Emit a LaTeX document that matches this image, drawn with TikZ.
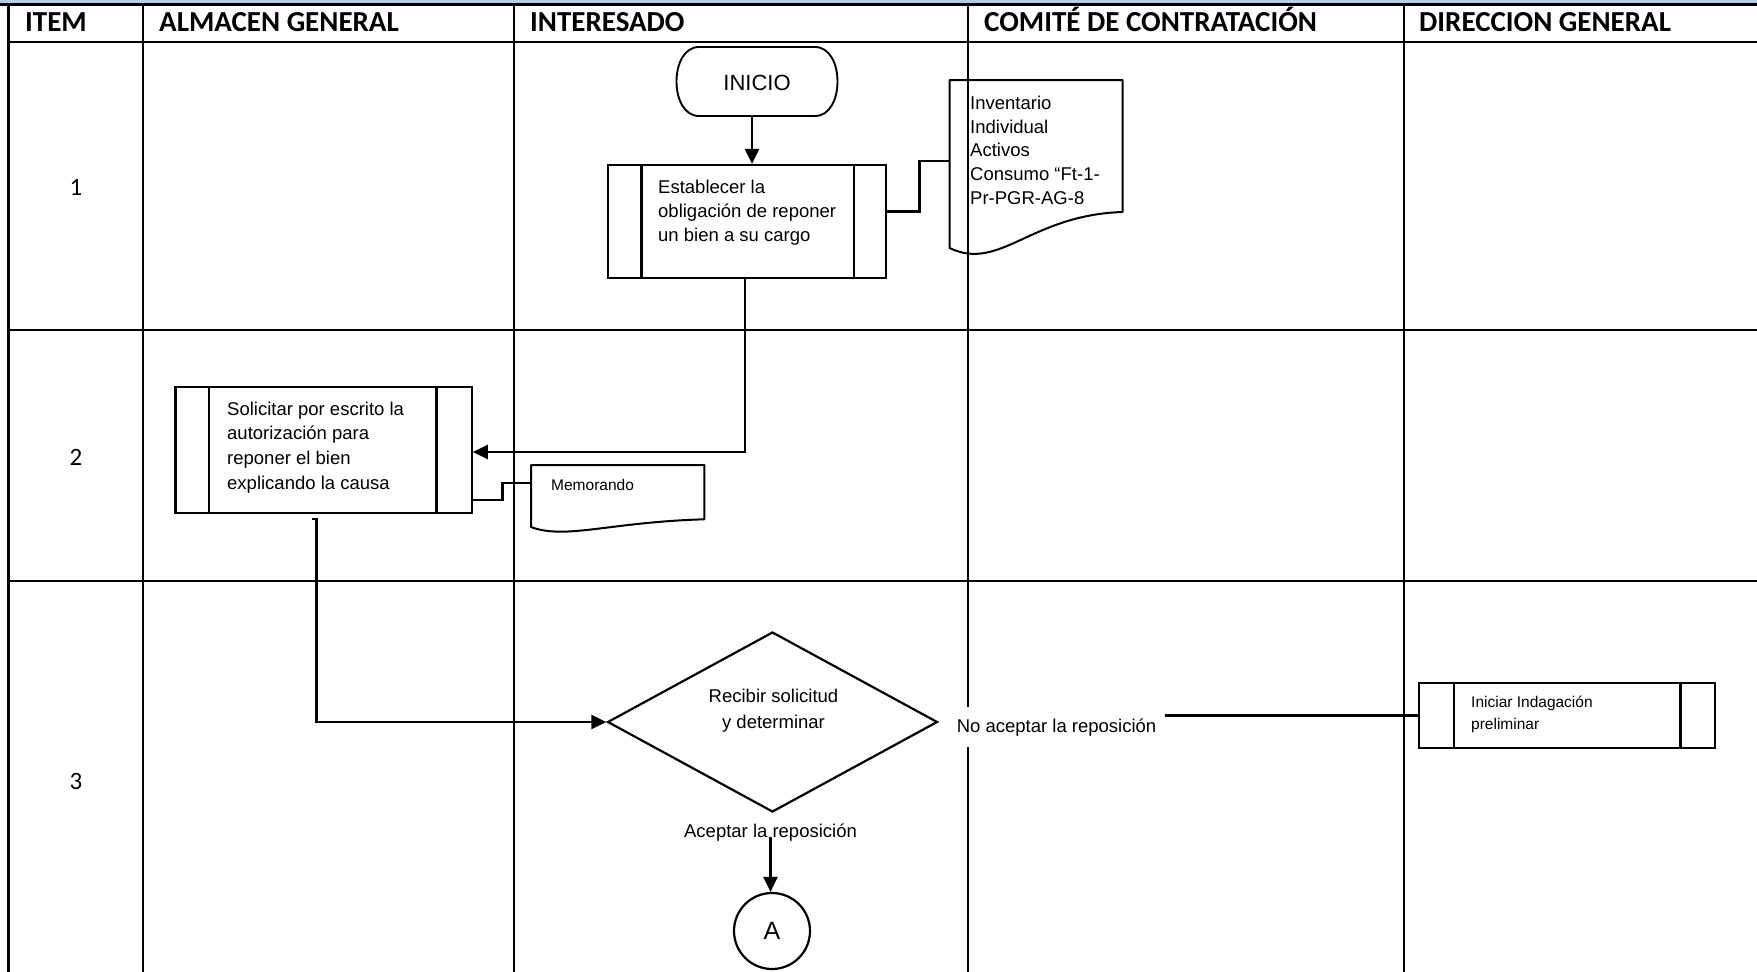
\documentclass[tikz,border=0pt]{standalone}
\usepackage{fontspec}
\setmainfont{Liberation Sans}
\newfontfamily\hdrfont{Carlito}
\usetikzlibrary{arrows.meta,shapes.geometric}
\definecolor{bandblue}{RGB}{184,204,228}
\begin{document}
\begin{tikzpicture}[x=1pt,y=-1pt,
  gridline/.style={line width=2.6pt},
  box/.style={draw, line width=2.2pt, rectangle, inner sep=0pt},
  boxline/.style={line width=2.2pt},
  docline/.style={line width=2pt, line join=round},
  conn/.style={line width=2.4pt},
  arr/.style={conn, -{Triangle[length=15pt,width=14pt]}},
  txt/.style={inner sep=0pt, align=left, font=\fontsize{18.5}{24.3}\selectfont},
  smalltxt/.style={inner sep=0pt, align=left, font=\fontsize{15.5}{21.7}\selectfont},
  lbl/.style={inner sep=0pt, font=\fontsize{18.5}{24}\selectfont},
  hd/.style={anchor=base west, inner sep=0pt, font=\hdrfont\bfseries\fontsize{29}{34}\selectfont},
  num/.style={inner sep=0pt, font=\hdrfont\fontsize{25}{30}\selectfont}]
\useasboundingbox (0,0) rectangle (1757,972);
% top band and grid
\fill[bandblue] (0,0) rectangle (1757,4);
\draw[line width=2.8pt] (0,4.8) -- (1757,4.8);
\draw[gridline] (8.5,4.8) -- (8.5,972);
\foreach \x in {143,514,968,1404} \draw[gridline] (\x,4.8) -- (\x,972);
\foreach \y in {42,330,581} \draw[gridline] (8.5,\y) -- (1757,\y);
% headers
\node[hd] (hitem) at (25,31) {ITEM};
\node[hd] (halm) at (159,31) {ALMACEN GENERAL};
\node[hd] (hint) at (530,31) {INTERESADO};
\node[hd] (hcom) at (984,31) {COMITÉ DE CONTRATACIÓN};
\node[hd] (hdir) at (1419,31) {DIRECCION GENERAL};
% item numbers
\node[num] (n1) at (76,187) {1};
\node[num] (n2) at (76,457) {2};
\node[num] (n3) at (76,781) {3};
% INICIO
\node[inner sep=0pt, minimum width=161, minimum height=66, font=\fontsize{22}{26}\selectfont] (inicio) at (757,83) {INICIO};
\draw[line width=1.9pt] (699,47) -- (815,47) .. controls (845,47) and (845,116) .. (815,116) -- (699,116) .. controls (669,116) and (669,47) .. (699,47) -- cycle;
% process 1
\node[box, minimum width=278.2, minimum height=113] (p1) at (747,221.5) {};
\draw[boxline] ([xshift=34.7pt]p1.north west) -- ([xshift=34.7pt]p1.south west);
\draw[boxline] ([xshift=-33pt]p1.north east) -- ([xshift=-33pt]p1.south east);
\node[txt, anchor=north west] (p1t) at (658,179.7) {Establecer la\\obligación de reponer\\un bien a su cargo};
\draw[arr] ([xshift=-5pt]inicio.south) -- ([xshift=5pt]p1.north);
% document 1
\node[inner sep=0pt, minimum width=173.1, minimum height=132] (doc1) at (1036,146) {};
\draw[docline] (949.5,80) -- (1122.6,80) -- (1122.6,212) .. controls (1030,215) and (1000,272) .. (949.5,248) -- cycle;
\node[txt, anchor=north west, font=\fontsize{18.5}{23.8}\selectfont] (doc1t) at (970,95.7) {Inventario\\Individual\\Activos\\Consumo “Ft-1-\\Pr-PGR-AG-8};
\draw[conn] ([yshift=10pt]p1.east) -- ++(32.4,0) |- ([yshift=-15pt]doc1.west);
% process 2
\node[box, minimum width=296.2, minimum height=125.4] (p2) at (323.6,450) {};
\draw[boxline] ([xshift=34.5pt]p2.north west) -- ([xshift=34.5pt]p2.south west);
\draw[boxline] ([xshift=-36.4pt]p2.north east) -- ([xshift=-36.4pt]p2.south east);
\node[txt, anchor=north west, font=\fontsize{18.5}{24.6}\selectfont] (p2t) at (227,401.7) {Solicitar por escrito la\\autorización para\\reponer el bien\\explicando la causa};
\draw[arr] ([xshift=-2pt]p1.south) |- ([yshift=-2pt]p2.east);
% memorando
\node[inner sep=0pt, minimum width=173.3, minimum height=54.3] (mem) at (617.6,492) {};
\draw[docline] (531,465) -- (704.3,465) -- (704.3,519.3) .. controls (610,522) and (565,540) .. (531,527) -- cycle;
\node[smalltxt, anchor=north west] (memt) at (551,479) {Memorando};
\draw[conn] ([yshift=-50pt]p2.east) -- ++(29.5,0) |- ([yshift=9.3pt]mem.west);
% decision
\node[draw, diamond, line width=2.2pt, minimum width=330, minimum height=180, inner sep=0pt] (dec) at (772.5,722) {};
\node[txt, align=center, anchor=north, font=\fontsize{18.5}{26}\selectfont] (dect) at (773.5,689) {Recibir solicitud\\y determinar};
\draw[arr] ([shift={(-12pt,-5pt)}]p2.south) -- ++(5,0) |- (dec.west);
% no branch
\node[lbl, fill=white, inner xsep=8pt, inner ysep=11pt, anchor=base west] (nolab) at ([xshift=10pt,yshift=-10pt]dec.east) {No aceptar la reposición};
\node[box, minimum width=295.7, minimum height=65.6] (ini) at (1567.15,715.5) {};
\draw[boxline] ([xshift=35.7pt]ini.north west) -- ([xshift=35.7pt]ini.south west);
\draw[boxline] ([xshift=-35.7pt]ini.north east) -- ([xshift=-35.7pt]ini.south east);
\node[smalltxt, anchor=north west] (init) at (1471,696.2) {Iniciar Indagación\\preliminar};
\draw[conn] (nolab.east |- ini.west) -- (ini.west);
% yes branch
\node[lbl, anchor=base] (acep) at (770.5,837) {Aceptar la reposición};
\node[draw, circle, line width=2.2pt, minimum size=76, inner sep=0pt, font=\fontsize{25}{30}\selectfont] (A) at (772,931) {A};
\draw[arr] (acep.base) -- (acep.base |- A.north);
\end{tikzpicture}
\end{document}
